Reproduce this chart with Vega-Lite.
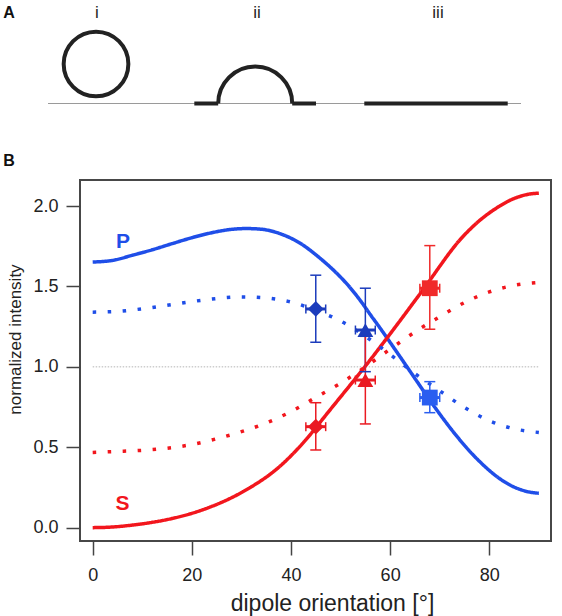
{
  "$schema": "https://vega.github.io/schema/vega-lite/v6.json",
  "background": "white",
  "padding": {"left": 2, "top": 0, "right": 5, "bottom": 0},
  "bounds": "flush",
  "spacing": 60,
  "config": {"font": "Liberation Sans"},
  "datasets": {
    "sketch": [
      {"part": "base", "x": -6.79, "x2": 93.63, "y": 1.375},
      {"part": "bar", "x": 24.27, "x2": 29.34, "y": 1.375},
      {"part": "bar", "x": 45.05, "x2": 50.11, "y": 1.375},
      {"part": "bar", "x": 60.36, "x2": 90.81, "y": 1.375},
      {"part": "ring", "x": 3.4, "y": 4.667},
      {"part": "dome", "x": 37.2, "y": 1.375},
      {"part": "label", "label": "i", "x": 3.61, "y": 8.958},
      {"part": "label", "label": "ii", "x": 37.58, "y": 8.958},
      {"part": "label", "label": "iii", "x": 76.01, "y": 8.958},
      {"part": "tag", "label": "A", "x": -15.07, "y": 8.958}
    ],
    "curves": [
      {"pol": "P", "kind": "model", "x": 0, "y": 1.652},
      {"pol": "P", "kind": "model", "x": 4, "y": 1.662},
      {"pol": "P", "kind": "model", "x": 8, "y": 1.694},
      {"pol": "P", "kind": "model", "x": 12, "y": 1.728},
      {"pol": "P", "kind": "model", "x": 16, "y": 1.766},
      {"pol": "P", "kind": "model", "x": 20, "y": 1.803},
      {"pol": "P", "kind": "model", "x": 24, "y": 1.834},
      {"pol": "P", "kind": "model", "x": 28, "y": 1.855},
      {"pol": "P", "kind": "model", "x": 31, "y": 1.86},
      {"pol": "P", "kind": "model", "x": 34, "y": 1.856},
      {"pol": "P", "kind": "model", "x": 36, "y": 1.845},
      {"pol": "P", "kind": "model", "x": 38, "y": 1.826},
      {"pol": "P", "kind": "model", "x": 40, "y": 1.8},
      {"pol": "P", "kind": "model", "x": 42, "y": 1.766},
      {"pol": "P", "kind": "model", "x": 44, "y": 1.722},
      {"pol": "P", "kind": "model", "x": 46, "y": 1.672},
      {"pol": "P", "kind": "model", "x": 48, "y": 1.618},
      {"pol": "P", "kind": "model", "x": 50, "y": 1.558},
      {"pol": "P", "kind": "model", "x": 52, "y": 1.49},
      {"pol": "P", "kind": "model", "x": 54, "y": 1.412},
      {"pol": "P", "kind": "model", "x": 56, "y": 1.325},
      {"pol": "P", "kind": "model", "x": 58, "y": 1.24},
      {"pol": "P", "kind": "model", "x": 60, "y": 1.152},
      {"pol": "P", "kind": "model", "x": 62, "y": 1.063},
      {"pol": "P", "kind": "model", "x": 64, "y": 0.973},
      {"pol": "P", "kind": "model", "x": 66, "y": 0.883},
      {"pol": "P", "kind": "model", "x": 68, "y": 0.793},
      {"pol": "P", "kind": "model", "x": 70, "y": 0.707},
      {"pol": "P", "kind": "model", "x": 72, "y": 0.625},
      {"pol": "P", "kind": "model", "x": 74, "y": 0.548},
      {"pol": "P", "kind": "model", "x": 76, "y": 0.477},
      {"pol": "P", "kind": "model", "x": 78, "y": 0.413},
      {"pol": "P", "kind": "model", "x": 80, "y": 0.356},
      {"pol": "P", "kind": "model", "x": 82, "y": 0.307},
      {"pol": "P", "kind": "model", "x": 84, "y": 0.268},
      {"pol": "P", "kind": "model", "x": 86, "y": 0.24},
      {"pol": "P", "kind": "model", "x": 88, "y": 0.222},
      {"pol": "P", "kind": "model", "x": 90, "y": 0.214},
      {"pol": "S", "kind": "model", "x": 0, "y": 0.0},
      {"pol": "S", "kind": "model", "x": 4, "y": 0.004},
      {"pol": "S", "kind": "model", "x": 8, "y": 0.016},
      {"pol": "S", "kind": "model", "x": 12, "y": 0.033},
      {"pol": "S", "kind": "model", "x": 16, "y": 0.057},
      {"pol": "S", "kind": "model", "x": 20, "y": 0.089},
      {"pol": "S", "kind": "model", "x": 24, "y": 0.132},
      {"pol": "S", "kind": "model", "x": 28, "y": 0.186},
      {"pol": "S", "kind": "model", "x": 32, "y": 0.254},
      {"pol": "S", "kind": "model", "x": 36, "y": 0.337},
      {"pol": "S", "kind": "model", "x": 38, "y": 0.388},
      {"pol": "S", "kind": "model", "x": 40, "y": 0.447},
      {"pol": "S", "kind": "model", "x": 42, "y": 0.512},
      {"pol": "S", "kind": "model", "x": 44, "y": 0.583},
      {"pol": "S", "kind": "model", "x": 46, "y": 0.66},
      {"pol": "S", "kind": "model", "x": 48, "y": 0.737},
      {"pol": "S", "kind": "model", "x": 50, "y": 0.813},
      {"pol": "S", "kind": "model", "x": 52, "y": 0.889},
      {"pol": "S", "kind": "model", "x": 54, "y": 0.966},
      {"pol": "S", "kind": "model", "x": 56, "y": 1.044},
      {"pol": "S", "kind": "model", "x": 58, "y": 1.124},
      {"pol": "S", "kind": "model", "x": 60, "y": 1.205},
      {"pol": "S", "kind": "model", "x": 62, "y": 1.287},
      {"pol": "S", "kind": "model", "x": 64, "y": 1.37},
      {"pol": "S", "kind": "model", "x": 66, "y": 1.453},
      {"pol": "S", "kind": "model", "x": 68, "y": 1.538},
      {"pol": "S", "kind": "model", "x": 70, "y": 1.625},
      {"pol": "S", "kind": "model", "x": 72, "y": 1.71},
      {"pol": "S", "kind": "model", "x": 74, "y": 1.787},
      {"pol": "S", "kind": "model", "x": 76, "y": 1.852},
      {"pol": "S", "kind": "model", "x": 78, "y": 1.909},
      {"pol": "S", "kind": "model", "x": 80, "y": 1.957},
      {"pol": "S", "kind": "model", "x": 82, "y": 1.998},
      {"pol": "S", "kind": "model", "x": 84, "y": 2.033},
      {"pol": "S", "kind": "model", "x": 86, "y": 2.058},
      {"pol": "S", "kind": "model", "x": 88, "y": 2.074},
      {"pol": "S", "kind": "model", "x": 90, "y": 2.08},
      {"pol": "P", "kind": "dotted", "x": 0, "y": 1.34},
      {"pol": "P", "kind": "dotted", "x": 5, "y": 1.345},
      {"pol": "P", "kind": "dotted", "x": 10, "y": 1.361},
      {"pol": "P", "kind": "dotted", "x": 15, "y": 1.383},
      {"pol": "P", "kind": "dotted", "x": 20, "y": 1.406},
      {"pol": "P", "kind": "dotted", "x": 25, "y": 1.425},
      {"pol": "P", "kind": "dotted", "x": 30, "y": 1.435},
      {"pol": "P", "kind": "dotted", "x": 35, "y": 1.428},
      {"pol": "P", "kind": "dotted", "x": 40, "y": 1.403},
      {"pol": "P", "kind": "dotted", "x": 45, "y": 1.352},
      {"pol": "P", "kind": "dotted", "x": 50, "y": 1.285},
      {"pol": "P", "kind": "dotted", "x": 55, "y": 1.19},
      {"pol": "P", "kind": "dotted", "x": 60, "y": 1.077},
      {"pol": "P", "kind": "dotted", "x": 65, "y": 0.958},
      {"pol": "P", "kind": "dotted", "x": 70, "y": 0.851},
      {"pol": "P", "kind": "dotted", "x": 75, "y": 0.747},
      {"pol": "P", "kind": "dotted", "x": 80, "y": 0.665},
      {"pol": "P", "kind": "dotted", "x": 85, "y": 0.615},
      {"pol": "P", "kind": "dotted", "x": 90, "y": 0.592},
      {"pol": "S", "kind": "dotted", "x": 0, "y": 0.468},
      {"pol": "S", "kind": "dotted", "x": 5, "y": 0.474},
      {"pol": "S", "kind": "dotted", "x": 10, "y": 0.481},
      {"pol": "S", "kind": "dotted", "x": 15, "y": 0.494},
      {"pol": "S", "kind": "dotted", "x": 20, "y": 0.517},
      {"pol": "S", "kind": "dotted", "x": 25, "y": 0.553},
      {"pol": "S", "kind": "dotted", "x": 30, "y": 0.597},
      {"pol": "S", "kind": "dotted", "x": 35, "y": 0.651},
      {"pol": "S", "kind": "dotted", "x": 40, "y": 0.722},
      {"pol": "S", "kind": "dotted", "x": 45, "y": 0.81},
      {"pol": "S", "kind": "dotted", "x": 50, "y": 0.898},
      {"pol": "S", "kind": "dotted", "x": 55, "y": 1.0},
      {"pol": "S", "kind": "dotted", "x": 60, "y": 1.11},
      {"pol": "S", "kind": "dotted", "x": 65, "y": 1.217},
      {"pol": "S", "kind": "dotted", "x": 70, "y": 1.312},
      {"pol": "S", "kind": "dotted", "x": 75, "y": 1.4},
      {"pol": "S", "kind": "dotted", "x": 80, "y": 1.466},
      {"pol": "S", "kind": "dotted", "x": 85, "y": 1.507},
      {"pol": "S", "kind": "dotted", "x": 90, "y": 1.525}
    ],
    "measured": [
      {"set": "P45", "x": 45, "y": 1.36, "ylo": 1.153, "yhi": 1.57, "xlo": 43, "xhi": 47},
      {"set": "P55", "x": 55, "y": 1.229, "ylo": 0.97, "yhi": 1.489, "xlo": 53, "xhi": 57},
      {"set": "P68", "x": 68, "y": 0.809, "ylo": 0.715, "yhi": 0.908, "xlo": 66, "xhi": 70},
      {"set": "S45", "x": 45, "y": 0.628, "ylo": 0.483, "yhi": 0.777, "xlo": 43, "xhi": 47},
      {"set": "S55", "x": 55, "y": 0.918, "ylo": 0.645, "yhi": 1.19, "xlo": 53, "xhi": 57},
      {"set": "S68", "x": 68, "y": 1.489, "ylo": 1.234, "yhi": 1.754, "xlo": 66, "xhi": 70}
    ],
    "reference": [{"x": 0, "x2": 90, "y": 1}],
    "notes": [
      {"label": "P", "pol": "P", "x": 6.1, "y": 1.777},
      {"label": "S", "pol": "S", "x": 6.0, "y": 0.15}
    ],
    "tags": [{"label": "B", "x": -16.86, "y": 2.28}]
  },
  "vconcat": [
    {
      "width": 471,
      "height": 120,
      "view": {"stroke": null},
      "data": {"name": "sketch"},
      "layer": [
        {
          "transform": [{"filter": "datum.part === 'base'"}],
          "mark": {"type": "rule", "color": "#9a9a9a", "strokeWidth": 1.2},
          "encoding": {
            "x": {"field": "x", "type": "quantitative", "scale": {"domain": [0, 100], "nice": false, "zero": false}, "axis": null},
            "x2": {"field": "x2"},
            "y": {"field": "y", "type": "quantitative", "scale": {"domain": [0, 10], "nice": false, "zero": false}, "axis": null}
          }
        },
        {
          "transform": [{"filter": "datum.part === 'bar'"}],
          "mark": {"type": "rule", "color": "#222222", "strokeWidth": 4},
          "encoding": {
            "x": {"field": "x", "type": "quantitative", "axis": null},
            "x2": {"field": "x2"},
            "y": {"field": "y", "type": "quantitative", "axis": null}
          }
        },
        {
          "transform": [{"filter": "datum.part === 'ring'"}],
          "mark": {"type": "point", "shape": "circle", "filled": false, "size": 4185, "strokeWidth": 4, "stroke": "#222222", "opacity": 1},
          "encoding": {
            "x": {"field": "x", "type": "quantitative", "axis": null},
            "y": {"field": "y", "type": "quantitative", "axis": null}
          }
        },
        {
          "transform": [{"filter": "datum.part === 'dome'"}],
          "mark": {"type": "arc", "theta": -1.5708, "theta2": 1.5708, "radius": 37, "radius2": 37, "filled": false, "stroke": "#222222", "strokeWidth": 4},
          "encoding": {
            "x": {"field": "x", "type": "quantitative", "axis": null},
            "y": {"field": "y", "type": "quantitative", "axis": null}
          }
        },
        {
          "transform": [{"filter": "datum.part === 'label'"}],
          "mark": {"type": "text", "fontSize": 17, "fill": "#222222", "align": "center", "baseline": "middle"},
          "encoding": {
            "x": {"field": "x", "type": "quantitative", "axis": null},
            "y": {"field": "y", "type": "quantitative", "axis": null},
            "text": {"field": "label"}
          }
        },
        {
          "transform": [{"filter": "datum.part === 'tag'"}],
          "mark": {"type": "text", "fontSize": 16, "fontWeight": "bold", "fill": "#111111", "align": "center", "baseline": "middle"},
          "encoding": {
            "x": {"field": "x", "type": "quantitative", "axis": null},
            "y": {"field": "y", "type": "quantitative", "axis": null},
            "text": {"field": "label"}
          }
        }
      ]
    },
    {
      "width": 471,
      "height": 361,
      "view": {"stroke": "#474747", "strokeWidth": 2},
      "encoding": {
        "x": {
          "field": "x", "type": "quantitative",
          "scale": {"domain": [-2.56, 92.45], "nice": false, "zero": false},
          "axis": {
            "values": [0, 20, 40, 60, 80], "domain": false, "grid": false,
            "tickSize": 14, "tickWidth": 1.5, "tickColor": "#444444",
            "labelFontSize": 18, "labelColor": "#222222", "labelPadding": 11.5, "labelFlush": false,
            "title": "dipole orientation [°]", "titleFontSize": 23, "titleFontWeight": "normal", "titleColor": "#222222",
            "titleX": 252, "titleY": 69, "titleBaseline": "alphabetic"
          }
        },
        "y": {
          "field": "y", "type": "quantitative",
          "scale": {"domain": [-0.083, 2.162], "nice": false, "zero": false},
          "axis": {
            "values": [0, 0.5, 1, 1.5, 2], "format": ".1f", "domain": false, "grid": false,
            "tickSize": 14, "tickWidth": 1.5, "tickColor": "#444444",
            "labelFontSize": 18, "labelColor": "#222222", "labelPadding": 8, "labelFlush": false,
            "title": "normalized intensity", "titleFontSize": 17, "titleFontWeight": "normal", "titleColor": "#222222",
            "titleX": -56, "titleY": 159, "titleBaseline": "bottom", "titleAngle": 270
          }
        }
      },
      "layer": [
        {
          "data": {"name": "reference"},
          "mark": {"type": "rule", "color": "#b5b5b5", "strokeWidth": 1, "strokeDash": [1.5, 1.5]},
          "encoding": {"x2": {"field": "x2"}}
        },
        {
          "data": {"name": "curves"},
          "mark": {"type": "line", "strokeWidth": 3.5, "interpolate": "monotone", "strokeCap": "butt"},
          "encoding": {
            "color": {"field": "pol", "type": "nominal", "legend": null,
              "scale": {"domain": ["P", "S", "P45", "P55", "P68", "S45", "S55", "S68"], "range": ["#1f4ee8", "#f2161d", "#1c3cbc", "#1c3cbc", "#2a5ef0", "#ea1a22", "#ea1a22", "#f02a2a"]}},
            "strokeDash": {"field": "kind", "type": "nominal", "legend": null,
              "scale": {"domain": ["model", "dotted"], "range": [[1, 0], [3.5, 11.5]]}}
          }
        },
        {
          "data": {"name": "measured"},
          "mark": {"type": "rule", "strokeWidth": 1.5},
          "encoding": {
            "y": {"field": "ylo", "type": "quantitative"},
            "y2": {"field": "yhi"},
            "color": {"field": "set", "type": "nominal", "legend": null}
          }
        },
        {
          "data": {"name": "measured"},
          "mark": {"type": "tick", "orient": "horizontal", "size": 11, "thickness": 1.5, "opacity": 1},
          "encoding": {
            "y": {"field": "ylo", "type": "quantitative"},
            "color": {"field": "set", "type": "nominal", "legend": null}
          }
        },
        {
          "data": {"name": "measured"},
          "mark": {"type": "tick", "orient": "horizontal", "size": 11, "thickness": 1.5, "opacity": 1},
          "encoding": {
            "y": {"field": "yhi", "type": "quantitative"},
            "color": {"field": "set", "type": "nominal", "legend": null}
          }
        },
        {
          "data": {"name": "measured"},
          "mark": {"type": "rule", "strokeWidth": 3},
          "encoding": {
            "x": {"field": "xlo", "type": "quantitative"},
            "x2": {"field": "xhi"},
            "color": {"field": "set", "type": "nominal", "legend": null}
          }
        },
        {
          "data": {"name": "measured"},
          "mark": {"type": "tick", "orient": "vertical", "size": 9, "thickness": 1.5, "opacity": 1},
          "encoding": {
            "x": {"field": "xlo", "type": "quantitative"},
            "color": {"field": "set", "type": "nominal", "legend": null}
          }
        },
        {
          "data": {"name": "measured"},
          "mark": {"type": "tick", "orient": "vertical", "size": 9, "thickness": 1.5, "opacity": 1},
          "encoding": {
            "x": {"field": "xhi", "type": "quantitative"},
            "color": {"field": "set", "type": "nominal", "legend": null}
          }
        },
        {
          "data": {"name": "measured"},
          "mark": {"type": "point", "filled": true, "size": 250, "opacity": 1},
          "encoding": {
            "color": {"field": "set", "type": "nominal", "legend": null},
            "shape": {"field": "set", "type": "nominal", "legend": null,
              "scale": {"domain": ["P45", "P55", "P68", "S45", "S55", "S68"], "range": ["diamond", "triangle-up", "square", "diamond", "triangle-up", "square"]}}
          }
        },
        {
          "data": {"name": "notes"},
          "mark": {"type": "text", "fontSize": 21, "fontWeight": "bold", "align": "center", "baseline": "middle"},
          "encoding": {
            "text": {"field": "label"},
            "color": {"field": "pol", "type": "nominal", "legend": null}
          }
        },
        {
          "data": {"name": "tags"},
          "mark": {"type": "text", "fontSize": 16, "fontWeight": "bold", "fill": "#111111", "align": "center", "baseline": "middle"},
          "encoding": {"text": {"field": "label"}}
        }
      ]
    }
  ]
}
